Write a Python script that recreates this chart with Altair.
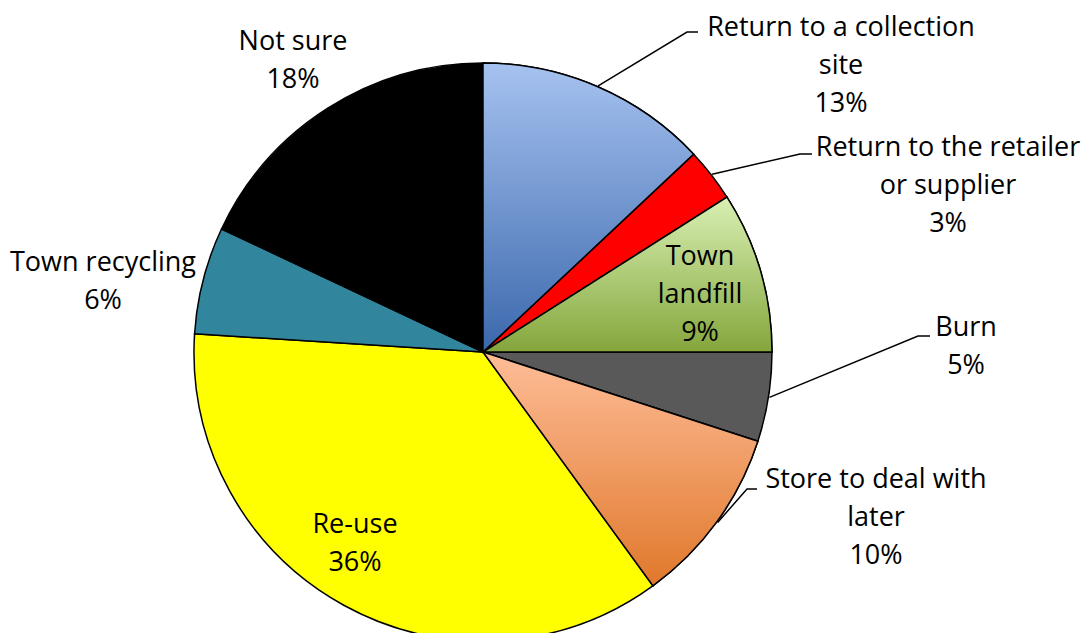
import math
import altair as alt
import pandas as pd

# ---- data ----
categories = ["Return to a collection site", "Return to the retailer or supplier",
              "Town landfill", "Burn", "Store to deal with later", "Re-use",
              "Town recycling", "Not sure"]
values = [13, 3, 9, 5, 10, 36, 6, 18]
label_texts = ["Return to a collection\nsite\n13%", "Return to the retailer\nor supplier\n3%",
               "Town\nlandfill\n9%", "Burn\n5%", "Store to deal with\nlater\n10%",
               "Re-use\n36%", "Town recycling\n6%", "Not sure\n18%"]
solid_colors = ["#8FACE0", "#FF0000", "#B5D67F", "#595959", "#F0A06A",
                "#FFFF00", "#31859C", "#000000"]
gradients = {
    "Return to a collection site": ("#A6C2F0", "#3B68AC"),
    "Town landfill": ("#D9F0B3", "#84A63C"),
    "Store to deal with later": ("#FEBD98", "#E0782B"),
}

# ---- layout (annotation positions, chart pixel coords; y = first text line) ----
CX, CY, R = 475, 344, 289
label_pos = {
    "Return to a collection site": (833, 20),
    "Return to the retailer or supplier": (940, 140),
    "Town landfill": (692, 249),
    "Burn": (958, 320),
    "Store to deal with later": (868, 472),
    "Re-use": (347, 517),
    "Town recycling": (95, 255),
    "Not sure": (285, 34),
}
leader_bends = {
    "Return to a collection site": [(679, 24), (690, 24)],
    "Return to the retailer or supplier": [(792, 146), (804, 146)],
    "Burn": [(910, 328), (922, 328)],
    "Store to deal with later": [(739, 481), (749, 481)],
}

df = pd.DataFrame({"cat": categories, "value": values,
                   "order": list(range(len(categories)))})

total = sum(values)
cum = 0
mids = {}
for c, v in zip(categories, values):
    mids[c] = (cum + v / 2) / total * 2 * math.pi
    cum += v

lab_df = pd.DataFrame({
    "cat": categories,
    "text": label_texts,
    "x": [label_pos[c][0] for c in categories],
    "y": [label_pos[c][1] for c in categories],
})

rows = []
for c, pts in leader_bends.items():
    a = mids[c]
    sx = CX + (R + 1) * math.sin(a)
    sy = CY - (R + 1) * math.cos(a)
    allpts = [(sx, sy)] + pts
    for i, (px, py) in enumerate(allpts):
        rows.append({"cat": c, "i": i, "x": px, "y": py})
lead_df = pd.DataFrame(rows)

theta_scale = alt.Scale(domain=[0, total], range=[0, 2 * math.pi])


def arc_base():
    return (alt.Chart(df)
            .transform_window(end="sum(value)", sort=[alt.SortField("order")],
                              frame=[None, 0])
            .transform_calculate(start="datum.end - datum.value"))


base = arc_base().mark_arc(outerRadius=R, stroke="black", strokeWidth=1.5).encode(
    theta=alt.Theta("start:Q", scale=theta_scale, stack=None),
    theta2="end:Q",
    color=alt.Color("cat:N", scale=alt.Scale(domain=categories, range=solid_colors),
                    legend=None),
    x=alt.value(CX), y=alt.value(CY),
)

layers = [base]
for c, (top, bot) in gradients.items():
    grad = alt.LinearGradient(
        gradient="linear", x1=0, y1=0, x2=0, y2=1,
        stops=[alt.GradientStop(color=top, offset=0),
               alt.GradientStop(color=bot, offset=1)])
    layers.append(
        arc_base().transform_filter(alt.datum.cat == c)
        .mark_arc(outerRadius=R, stroke="black", strokeWidth=1.5, fill=grad)
        .encode(theta=alt.Theta("start:Q", scale=theta_scale, stack=None),
                theta2="end:Q", x=alt.value(CX), y=alt.value(CY))
    )

leaders = alt.Chart(lead_df).mark_line(color="black", strokeWidth=1.5).encode(
    x=alt.X("x:Q", scale=None), y=alt.Y("y:Q", scale=None),
    detail="cat:N", order="i:Q")

labels = alt.Chart(lab_df).mark_text(
    font="Open Sans", fontSize=27, lineBreak="\n", lineHeight=38,
    align="center", baseline="middle", color="black").encode(
    x=alt.X("x:Q", scale=None), y=alt.Y("y:Q", scale=None), text="text:N")

chart = alt.layer(*layers, leaders, labels).properties(
    width=1075, height=625, autosize="none", padding=0
).configure_view(stroke=None)

chart.save("out.html", embed_options={"renderer": "svg", "actions": False})
